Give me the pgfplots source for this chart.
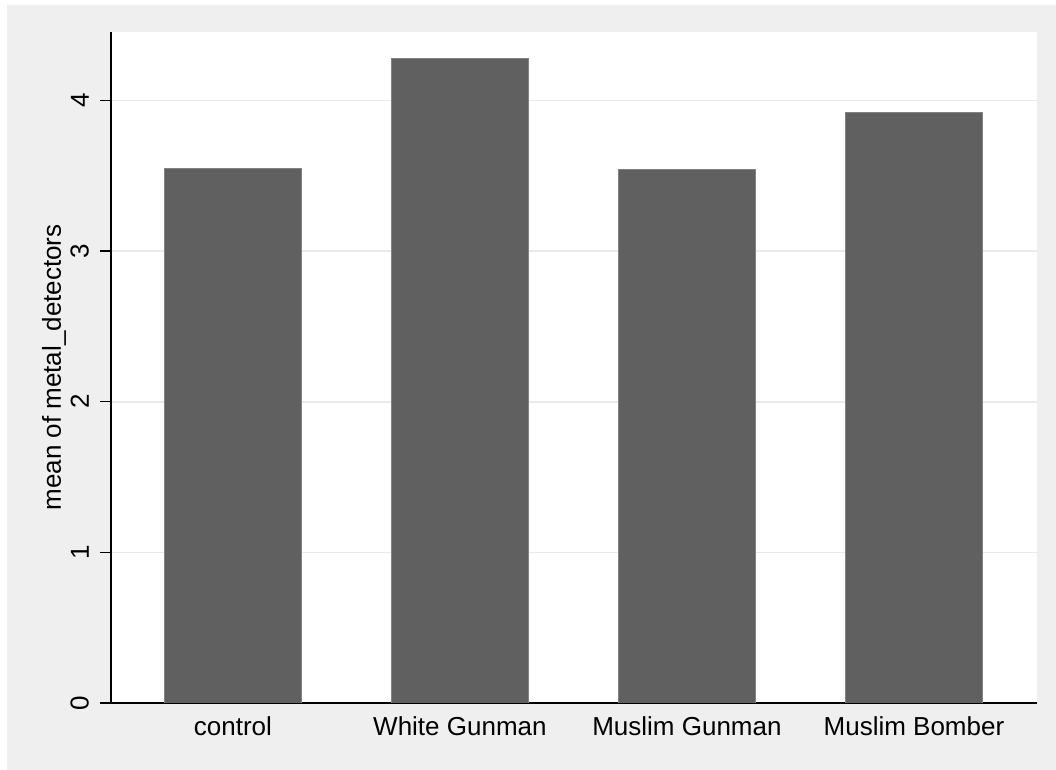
\documentclass[border=0pt]{standalone}
\usepackage{pgfplots}
\pgfplotsset{compat=1.18}
\usepackage{fontspec}
\setmainfont{Liberation Sans}
\definecolor{bggray}{RGB}{239,239,239}
\definecolor{barfill}{RGB}{96,96,96}
\definecolor{baredge}{RGB}{130,130,130}
\definecolor{gridgray}{RGB}{234,234,234}
\begin{document}
\begin{tikzpicture}
\fill[white] (0,0) rectangle (528pt,385pt);
\fill[bggray] (3.5pt,0) rectangle (528pt,382.5pt);
\begin{axis}[
  at={(55.5pt,33.5pt)}, anchor=south west,
  scale only axis, width=463pt, height=335.5pt,
  axis background/.style={fill=white},
  ybar, bar width=0.6,
  xmin=0.463, xmax=4.542, ymin=0, ymax=4.455,
  axis lines=left, axis line style={-, line width=0.6pt, black},
  xtick={1,2,3,4},
  xticklabels={control, White Gunman, Muslim Gunman, Muslim Bomber},
  ytick={0,1,2,3,4},
  tick align=outside,
  major tick length=5.5pt,
  major x tick style={draw=none},
  major y tick style={draw=black, line width=0.7pt},
  ymajorgrids, major grid style={gridgray, line width=0.75pt},
  font=\fontsize{13pt}{15pt}\selectfont,
  /pgf/number format/assume math mode=true,
  yticklabel style={rotate=90, anchor=south, inner sep=0pt},
  yticklabel shift=5.35pt,
  xticklabel style={anchor=base, inner sep=0pt},
  xticklabel shift=11pt,
  ylabel={mean of metal\_detectors},
  every axis y label/.style={at={(axis description cs:-0.054,0.5)}, rotate=90, anchor=base},
  after end axis/.code={
    \foreach \yy in {1,2,3,4}{\draw[black, line width=0.7pt] (axis cs:0.463,\yy) -- ++(-5.5pt,0pt);}
  },
]
\addplot[fill=barfill, draw=baredge, line width=0.4pt] coordinates {(1,3.547) (2,4.277) (3,3.540) (4,3.918)};
\end{axis}
\end{tikzpicture}
\end{document}
